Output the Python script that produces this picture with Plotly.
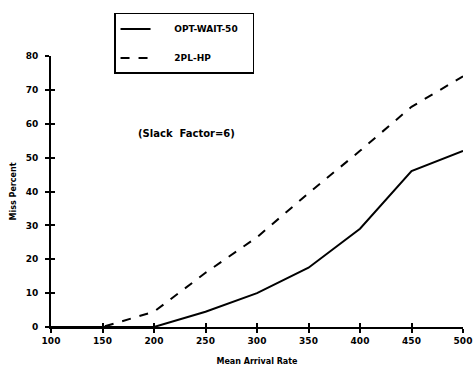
import plotly.graph_objects as go

arrival_rate = [100, 150, 200, 250, 300, 350, 400, 450, 500]
opt_wait_50 = [0, 0, 0, 4.5, 10, 17.5, 29, 46, 52]
twopl_hp = [0, 0, 4.5, 16, 26.5, 39.5, 52, 65, 74]
x_ticks = [100, 150, 200, 250, 300, 350, 400, 450, 500]
y_ticks = [0, 10, 20, 30, 40, 50, 60, 70, 80]

FONT = "DejaVu Sans"
NB = "\u00a0"

fig = go.Figure()
fig.add_trace(go.Scatter(x=arrival_rate, y=opt_wait_50, mode="lines", name=NB * 6 + "OPT-WAIT-50" + NB * 3,
                         line=dict(color="black", width=2, dash="solid"), legendgroup="a"))
fig.add_trace(go.Scatter(x=arrival_rate, y=twopl_hp, mode="lines", name=NB * 6 + "2PL-HP",
                         line=dict(color="black", width=2, dash="dash"), legendgroup="b"))

fig.add_annotation(x=232, y=57, xref="x", yref="y", text="(Slack  Factor=6)", showarrow=False,
                   font=dict(family=FONT, size=10, color="black", weight="bold"))

axis_common = dict(showgrid=False, zeroline=False, showline=True, linecolor="black", linewidth=2,
                   ticks="outside", ticklen=4, tickwidth=1.5, tickcolor="black",
                   tickfont=dict(family=FONT, size=9, color="black", weight="bold"))

fig.update_layout(
    width=474, height=372,
    margin=dict(l=51, r=11, t=56, b=45, autoexpand=False),
    paper_bgcolor="white", plot_bgcolor="white",
    showlegend=True,
    legend=dict(x=0.153, y=1.159, xanchor="left", yanchor="top",
                bordercolor="black", borderwidth=1.5, bgcolor="white",
                font=dict(family=FONT, size=9, color="black", weight="bold"),
                tracegroupgap=10, traceorder="grouped"),
    xaxis=dict(range=[100, 500], tickvals=x_ticks, ticktext=[str(v) for v in x_ticks],
               title=dict(text="Mean Arrival Rate", standoff=14,
                          font=dict(family=FONT, size=8, color="black", weight="bold")),
               **axis_common),
    yaxis=dict(range=[0, 80], tickvals=y_ticks, ticktext=[str(v) for v in y_ticks],
               ticklabelstandoff=5,
               title=dict(text="Miss Percent", standoff=8,
                          font=dict(family=FONT, size=8, color="black", weight="bold")),
               **axis_common),
    xaxis2=dict(range=[100, 500], overlaying="x", side="bottom", tickvals=x_ticks,
                showticklabels=False, ticks="inside", ticklen=4, tickwidth=1.5, tickcolor="black",
                showgrid=False, zeroline=False, showline=False, anchor="y"),
    yaxis2=dict(range=[0, 80], overlaying="y", side="left", tickvals=y_ticks,
                showticklabels=False, ticks="inside", ticklen=4, tickwidth=1.5, tickcolor="black",
                showgrid=False, zeroline=False, showline=False, anchor="x"),
)
# invisible helper trace so the overlay axes are drawn
fig.add_trace(go.Scatter(x=[100], y=[0], xaxis="x2", yaxis="y2", mode="markers",
                         marker=dict(opacity=0), showlegend=False, hoverinfo="skip"))

fig.write_html("out.html")
